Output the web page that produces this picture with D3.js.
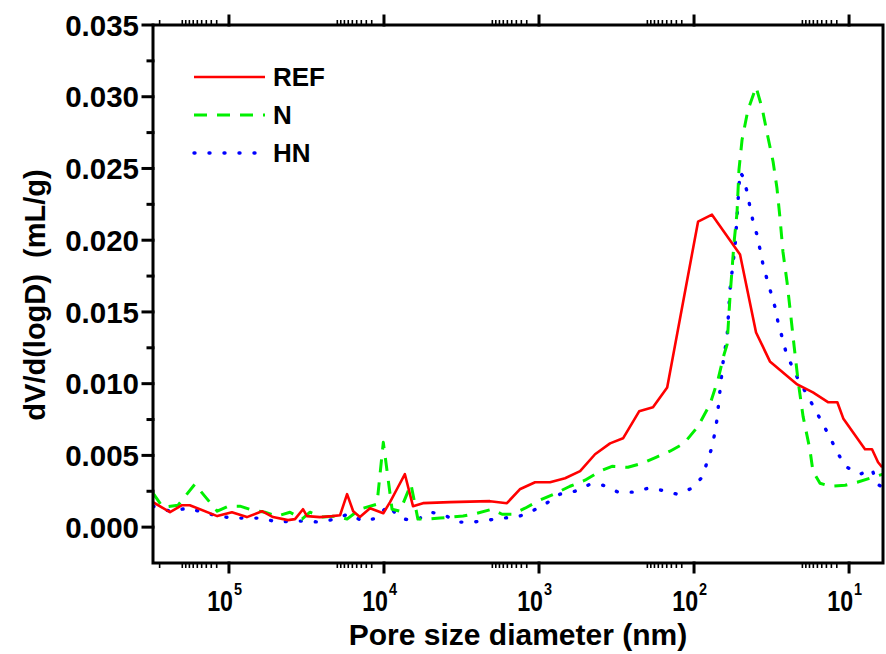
<!DOCTYPE html>
<html><head><meta charset="utf-8">
<script src="https://cdn.jsdelivr.net/npm/d3@7"></script>
<style>
html,body{margin:0;padding:0;background:#fff;}
text{font-family:"Liberation Sans",Arial,sans-serif;font-weight:bold;fill:#000;}
</style></head><body>
<svg id="chart" width="886" height="654"></svg>
<script>
// Pore size distribution (MIP): diameter in nm, dV/d(logD) in mL/g
const seriesNames = ["REF", "N", "HN"];

const refDiameter = [309000,240000,201000,179000,119000,95700,76600,61200,52000,41600,37500,33300,31400,25900,21600,19200,17300,15800,14300,12300,10100,9140,8130,7330,6500,5600,3750,2070,1610,1330,1060,849,679,543,435,348,287,226,184,149,94.2,76.6,50.5,39.8,32.4,21.6,17.1,13.6,11.9,10.9,7.89,7.11,6.50,6.12];
const refValue = [0.00174,0.00104,0.00153,0.00153,0.00077,0.00104,0.00070,0.00111,0.00070,0.00049,0.00056,0.00125,0.00077,0.00070,0.00077,0.00083,0.00230,0.00111,0.00070,0.00132,0.00097,0.00174,0.00278,0.00369,0.00146,0.00167,0.00174,0.00181,0.00167,0.00264,0.00313,0.00313,0.00341,0.00390,0.00508,0.00584,0.00619,0.00807,0.00835,0.00974,0.02129,0.02178,0.01900,0.01357,0.01155,0.00995,0.00939,0.00870,0.00870,0.00758,0.00543,0.00543,0.00452,0.00417];

const nDiameter = [309000,267000,213000,166000,119000,101000,84900,70000,58600,49000,40400,33800,30000,24800,20100,17300,14300,11100,10100,8870,7890,6700,6040,5200,4350,3090,2510,2010,1730,1490,1230,986,776,631,505,404,338,267,216,176,143,116,94.2,78.9,70.0,64.0,61.2,58.6,55.2,52.8,51.3,49.0,44.9,39.8,36.4,33.3,30.9,29.2,27.9,26.7,25.1,24.0,22.6,21.3,19.8,17.9,17.1,15.4,13.3,10.6,8.87,7.33,6.04];
const nValue = [0.00237,0.00139,0.00153,0.00299,0.00111,0.00146,0.00146,0.00118,0.00104,0.00077,0.00104,0.00056,0.00104,0.00070,0.00077,0.00056,0.00125,0.00160,0.00591,0.00125,0.00111,0.00299,0.00056,0.00056,0.00063,0.00077,0.00097,0.00125,0.00090,0.00090,0.00132,0.00188,0.00237,0.00285,0.00327,0.00390,0.00424,0.00417,0.00445,0.00487,0.00529,0.00584,0.00703,0.00856,0.01030,0.01204,0.01273,0.01607,0.01983,0.02192,0.02491,0.02700,0.02908,0.03068,0.02922,0.02714,0.02547,0.02366,0.02157,0.01920,0.01705,0.01517,0.01259,0.01016,0.00772,0.00543,0.00390,0.00306,0.00285,0.00292,0.00313,0.00341,0.00369];

const hnDiameter = [309000,240000,184000,147000,118000,94200,76600,61200,49000,39300,32400,25900,20700,17100,13600,11100,9420,7890,6310,5050,4160,3330,2670,2130,1730,1390,1140,914,733,586,469,386,309,248,198,161,129,103,88.7,82.4,76.6,73.3,71.1,67.9,65.0,61.2,58.6,54.3,52.8,51.3,50.5,48.3,45.5,43.6,41.6,39.3,37.5,35.9,33.8,31.8,30.0,28.7,27.0,25.5,23.3,21.3,18.7,16.6,14.7,13.3,11.9,10.6,8.49,7.11,6.59,6.04];
const hnValue = [0.00146,0.00111,0.00132,0.00104,0.00077,0.00063,0.00063,0.00063,0.00035,0.00042,0.00042,0.00035,0.00056,0.00090,0.00042,0.00063,0.00153,0.00063,0.00042,0.00104,0.00090,0.00035,0.00035,0.00049,0.00063,0.00070,0.00104,0.00160,0.00230,0.00250,0.00299,0.00292,0.00244,0.00244,0.00271,0.00257,0.00230,0.00271,0.00348,0.00452,0.00557,0.00661,0.00751,0.00960,0.01148,0.01329,0.01656,0.01969,0.02164,0.02373,0.02477,0.02442,0.02338,0.02234,0.02129,0.02039,0.01934,0.01830,0.01726,0.01628,0.01531,0.01426,0.01322,0.01218,0.01120,0.01030,0.00925,0.00821,0.00717,0.00626,0.00522,0.00424,0.00369,0.00404,0.00299,0.00278];

// axis ticks
const xMajorTicks = [1e5, 1e4, 1e3, 1e2, 1e1];
const xMinorFactors = [1.2, 1.3, 1.4, 1.5, 1.6, 1.7, 1.8, 1.9, 2.0];
const xExtraMinor = [2.8e5];
const yMajorTicks = [0, 0.005, 0.01, 0.015, 0.02, 0.025, 0.03, 0.035];
const yMinorTicks = [0.0025, 0.0075, 0.0125, 0.0175, 0.0225, 0.0275, 0.0325];

const L = 153, R = 883, T = 25, B = 563;
const svg = d3.select("#chart");

const x = d3.scaleLog().domain([309000, 6.04]).range([L, R]);
const y = d3.scaleLinear().domain([-0.0025, 0.035]).range([B, T]);

svg.append("defs").append("clipPath").attr("id", "plotClip")
  .append("rect").attr("x", L).attr("y", T).attr("width", R - L).attr("height", B - T);

const series = [
  {name: seriesNames[0], d: refDiameter, v: refValue, color: "#ff0000", dash: null, width: 2.6, cap: "butt"},
  {name: seriesNames[1], d: nDiameter, v: nValue, color: "#00f000", dash: "13,10", width: 3, cap: "butt"},
  {name: seriesNames[2], d: hnDiameter, v: hnValue, color: "#0000ff", dash: "1,14", width: 3.4, cap: "round"}
];

const line = d3.line().x(p => x(p[0])).y(p => y(p[1]));

const plot = svg.append("g").attr("clip-path", "url(#plotClip)");
// HN and N first, REF on top
[series[2], series[1], series[0]].forEach(s => {
  plot.append("path")
    .datum(d3.zip(s.d, s.v))
    .attr("d", line)
    .attr("fill", "none")
    .attr("stroke", s.color)
    .attr("stroke-width", s.width)
    .attr("stroke-linejoin", "round")
    .attr("stroke-linecap", s.cap)
    .attr("stroke-dasharray", s.dash);
});

// frame
const axes = svg.append("g").attr("stroke", "#000").attr("stroke-linecap", "square");
axes.append("rect").attr("x", L).attr("y", T).attr("width", R - L).attr("height", B - T)
  .attr("fill", "none").attr("stroke-width", 3);

// x ticks on bottom and top
const xMinor = [];
xMajorTicks.forEach(t => xMinorFactors.forEach(f => xMinor.push(t * f)));
xExtraMinor.forEach(t => xMinor.push(t));

xMajorTicks.forEach(t => {
  const px = x(t);
  axes.append("line").attr("x1", px).attr("x2", px).attr("y1", B).attr("y2", B + 9).attr("stroke-width", 3);
  axes.append("line").attr("x1", px).attr("x2", px).attr("y1", T).attr("y2", T - 9).attr("stroke-width", 3);
});
xMinor.forEach(t => {
  const px = x(t);
  axes.append("line").attr("x1", px).attr("x2", px).attr("y1", B).attr("y2", B + 5).attr("stroke-width", 1.6).attr("stroke-linecap", "butt");
  axes.append("line").attr("x1", px).attr("x2", px).attr("y1", T).attr("y2", T - 5).attr("stroke-width", 1.6).attr("stroke-linecap", "butt");
});

// y ticks on left
yMajorTicks.forEach(t => {
  axes.append("line").attr("x1", L).attr("x2", L - 10).attr("y1", y(t)).attr("y2", y(t)).attr("stroke-width", 3);
});
yMinorTicks.forEach(t => {
  axes.append("line").attr("x1", L).attr("x2", L - 5).attr("y1", y(t)).attr("y2", y(t)).attr("stroke-width", 3);
});

// y tick labels
svg.append("g").selectAll("text").data(yMajorTicks).join("text")
  .attr("x", 139).attr("y", d => y(d)).attr("dy", "0.36em")
  .attr("text-anchor", "end").attr("font-size", 29.5)
  .text(d => d3.format(".3f")(d));

// x tick labels: 10^n (narrow face)
const xl = svg.append("g");
xMajorTicks.forEach(t => {
  const px = x(t);
  xl.append("text").attr("transform", `translate(${px + 4},611) scale(0.8,1)`)
    .attr("text-anchor", "end").attr("font-size", 29).text("10");
  xl.append("text").attr("transform", `translate(${px + 5},595) scale(0.85,1)`)
    .attr("text-anchor", "start").attr("font-size", 17)
    .text(String(Math.round(Math.log10(t))));
});

// axis titles
svg.append("text").attr("x", (L + R) / 2 + 0).attr("y", 645).attr("text-anchor", "middle")
  .attr("font-size", 30).text("Pore size diameter (nm)");
svg.append("text").attr("transform", `translate(45,${(T + B) / 2 + 1}) rotate(-90)`)
  .attr("text-anchor", "middle").attr("font-size", 29).style("white-space", "pre")
  .text("dV/d(logD)  (mL/g)");

// legend
const lg = svg.append("g");
series.forEach((s, i) => {
  const ly = 77 + i * 38;
  lg.append("line").attr("x1", 194).attr("x2", 265).attr("y1", ly).attr("y2", ly)
    .attr("stroke", s.color).attr("stroke-width", s.width)
    .attr("stroke-linecap", s.cap).attr("stroke-dasharray", s.dash);
  lg.append("text").attr("x", 273).attr("y", ly).attr("dy", "0.36em").attr("font-size", 26).text(s.name);
});
</script>
</body></html>
